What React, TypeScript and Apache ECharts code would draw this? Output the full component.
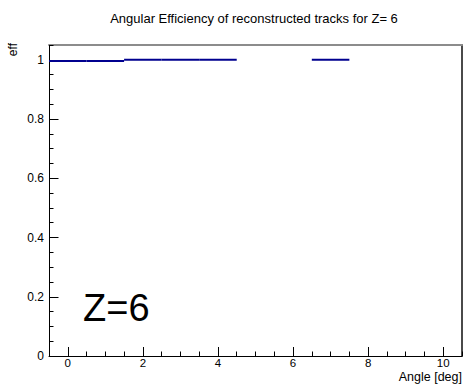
import React, { useEffect, useRef } from "react";
import * as echarts from "echarts";

const binCenters = [0, 1, 2, 3, 4, 5, 6, 7, 8, 9, 10];
const efficiency = [0.996, 0.996, 1.0, 1.0, 1.0, 0, 0, 1.0, 0, 0, 0];
const xMajorTicks = [0, 2, 4, 6, 8, 10];
const xMinorTicks = [-0.5, 0.5, 1, 1.5, 2.5, 3, 3.5, 4.5, 5, 5.5, 6.5, 7, 7.5, 8.5, 9, 9.5, 10.5];
const yMajorTicks = [0, 0.2, 0.4, 0.6, 0.8, 1];
const yMinorTicks = [0.05, 0.1, 0.15, 0.25, 0.3, 0.35, 0.45, 0.5, 0.55, 0.65, 0.7, 0.75, 0.85, 0.9, 0.95, 1.05];
const titleText = "Angular Efficiency of reconstructed tracks for Z= 6";
const xTitle = "Angle [deg]";
const yTitle = "eff";
const labelText = "Z=6";

const FONT = "'Liberation Sans', Arial, Helvetica, sans-serif";
const X_MIN = -0.5;
const X_MAX = 10.5;
const Y_MIN = 0;
const Y_MAX = 1.05;

export default function App() {
  const ref = useRef<HTMLDivElement>(null);
  useEffect(() => {
    if (!ref.current) return;
    const chart = echarts.init(ref.current, null, { renderer: "svg" });
    const data = binCenters
      .map((c, i) => [c, efficiency[i]])
      .filter((d) => d[1] > 0);
    const hidden = { show: false };
    const noLine = { show: false, onZero: false };
    chart.setOption({
      animation: false,
      backgroundColor: "#ffffff",
      grid: { left: 49, right: 10, top: 45, bottom: 32, containLabel: false },
      xAxis: [
        {
          type: "value",
          min: X_MIN,
          max: X_MAX,
          position: "bottom",
          axisLine: { show: true, onZero: false, lineStyle: { color: "#000", width: 1 } },
          axisTick: { show: true, inside: true, length: 9, customValues: xMajorTicks, lineStyle: { color: "#000" } },
          axisLabel: { show: true, customValues: xMajorTicks, margin: 1, color: "#000", fontSize: 11.5, fontFamily: FONT, lineHeight: 12 },
          splitLine: hidden,
        },
        {
          type: "value",
          min: X_MIN,
          max: X_MAX,
          position: "bottom",
          axisLine: noLine,
          axisTick: { show: true, inside: true, length: 4.5, customValues: xMinorTicks, lineStyle: { color: "#000" } },
          axisLabel: { show: false, customValues: xMinorTicks },
          splitLine: hidden,
        },
        {
          type: "value",
          min: X_MIN,
          max: X_MAX,
          position: "top",
          axisLine: { show: true, onZero: false, lineStyle: { color: "#8c8c8c", width: 2 } },
          axisTick: hidden,
          axisLabel: hidden,
          splitLine: hidden,
        },
      ],
      yAxis: [
        {
          type: "value",
          min: Y_MIN,
          max: Y_MAX,
          position: "left",
          axisLine: { show: true, onZero: false, lineStyle: { color: "#000", width: 1 } },
          axisTick: { show: true, inside: true, length: 9.5, customValues: yMajorTicks, lineStyle: { color: "#000" } },
          axisLabel: { show: true, customValues: yMajorTicks, margin: 5, color: "#000", fontSize: 12, fontFamily: FONT },
          splitLine: hidden,
        },
        {
          type: "value",
          min: Y_MIN,
          max: Y_MAX,
          position: "left",
          axisLine: noLine,
          axisTick: { show: true, inside: true, length: 4.5, customValues: yMinorTicks, lineStyle: { color: "#000" } },
          axisLabel: { show: false, customValues: yMinorTicks },
          splitLine: hidden,
        },
        {
          type: "value",
          min: Y_MIN,
          max: Y_MAX,
          position: "right",
          axisLine: { show: true, onZero: false, lineStyle: { color: "#4a4a4a", width: 2 } },
          axisTick: hidden,
          axisLabel: hidden,
          splitLine: hidden,
        },
      ],
      series: [
        {
          type: "custom",
          xAxisIndex: 0,
          yAxisIndex: 0,
          data,
          renderItem: (params: any, api: any) => {
            const x = api.value(0);
            const y = api.value(1);
            const p1 = api.coord([x - 0.5, y]);
            const p2 = api.coord([x + 0.5, y]);
            return {
              type: "line",
              shape: { x1: p1[0], y1: p1[1], x2: p2[0], y2: p2[1] },
              style: { stroke: "#00008f", lineWidth: 2 },
            };
          },
        },
      ],
      graphic: [
        {
          type: "text",
          x: 254,
          y: 18,
          style: { text: titleText, font: `13px ${FONT}`, fill: "#000", align: "center", verticalAlign: "middle" },
        },
        {
          type: "text",
          x: 462,
          y: 377,
          style: { text: xTitle, font: `12.5px ${FONT}`, fill: "#000", align: "right", verticalAlign: "middle", lineHeight: 12 },
        },
        {
          type: "text",
          x: 12.5,
          y: 43,
          rotation: Math.PI / 2,
          style: { text: yTitle, font: `12px ${FONT}`, fill: "#000", align: "right", verticalAlign: "middle" },
        },
        {
          type: "text",
          x: 83,
          y: 308,
          style: { text: labelText, font: `38px ${FONT}`, fill: "#000", align: "left", verticalAlign: "middle" },
        },
      ],
    });
    return () => chart.dispose();
  }, []);
  return (
    <div
      ref={ref}
      style={{ position: "fixed", left: 0, top: 0, width: 472, height: 388, background: "#fff" }}
    />
  );
}
